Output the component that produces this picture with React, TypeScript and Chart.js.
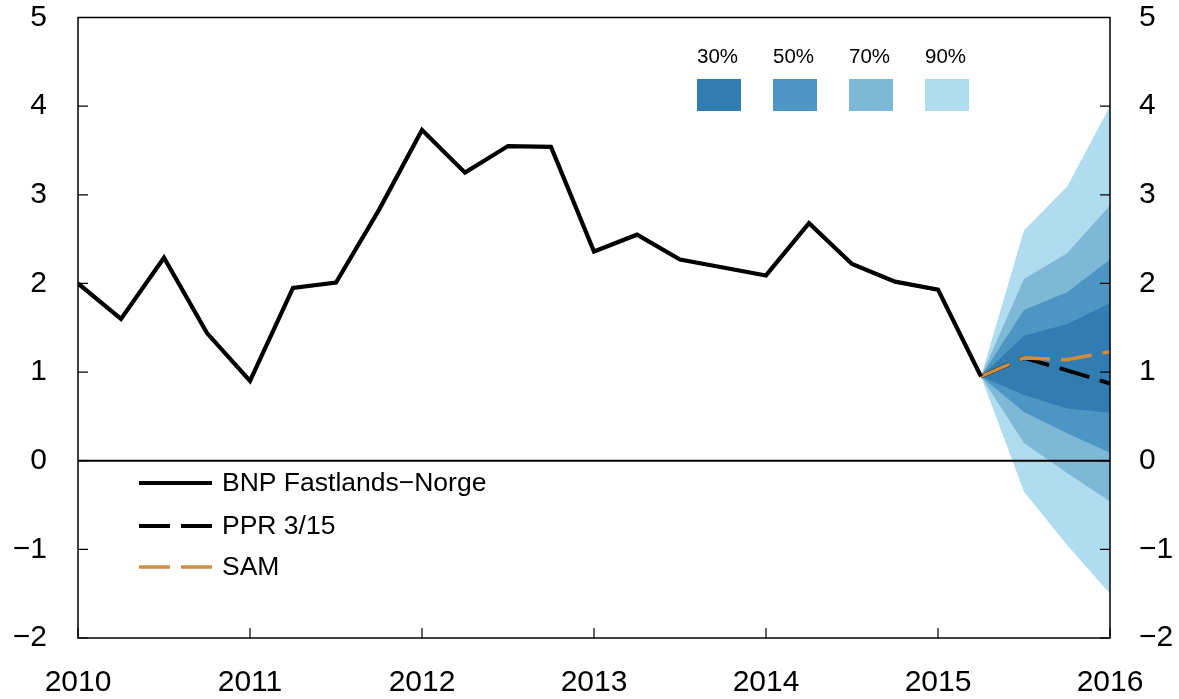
import React, { useEffect, useRef } from "react";
import { Chart, registerables } from "chart.js";

Chart.register(...registerables);

const histX = [2010, 2010.25, 2010.5, 2010.75, 2011, 2011.25, 2011.5, 2011.75, 2012, 2012.25, 2012.5, 2012.75, 2013, 2013.25, 2013.5, 2013.75, 2014, 2014.25, 2014.5, 2014.75, 2015, 2015.25];
const bnp = [2.0, 1.6, 2.29, 1.44, 0.9, 1.95, 2.01, 2.83, 3.73, 3.25, 3.55, 3.54, 2.36, 2.55, 2.27, 2.18, 2.09, 2.68, 2.22, 2.02, 1.93, 0.95];

const fcX = [2015.25, 2015.5, 2015.75, 2016];
const ppr = [0.95, 1.16, 1.02, 0.87];
const sam = [0.95, 1.16, 1.14, 1.23];

const up30 = [0.95, 1.41, 1.54, 1.78];
const lo30 = [0.95, 0.74, 0.59, 0.54];
const up50 = [0.95, 1.7, 1.9, 2.27];
const lo50 = [0.95, 0.55, 0.31, 0.09];
const up70 = [0.95, 2.05, 2.34, 2.88];
const lo70 = [0.95, 0.2, -0.14, -0.46];
const up90 = [0.95, 2.6, 3.09, 4.0];
const lo90 = [0.95, -0.35, -0.95, -1.5];

const bandLabels = ["30%", "50%", "70%", "90%"];
const seriesLabels = ["BNP Fastlands\u2212Norge", "PPR 3/15", "SAM"];

const C30 = "#317DB2";
const C50 = "#4D95C3";
const C70 = "#7DB8D6";
const C90 = "#B0DCF0";
const ORANGE = "#D18D3F";
const FONT = "'Liberation Sans', Arial, Helvetica, sans-serif";

const pts = (xs: number[], ys: number[]) => xs.map((x, i) => ({ x, y: ys[i] }));

const fmt = (v: any) => {
  const n = Number(v);
  return n < 0 ? "\u2212" + Math.abs(n) : String(n);
};

export default function App() {
  const ref = useRef<HTMLCanvasElement | null>(null);

  useEffect(() => {
    if (!ref.current) return;

    const band = (data: number[], color: string, fill: any) => ({
      data: pts(fcX, data),
      borderWidth: 0,
      borderColor: "transparent",
      backgroundColor: color,
      pointRadius: 0,
      fill,
      tension: 0,
    });

    const decor = {
      id: "decor",
      afterDatasetsDraw(chart: any) {
        const { ctx, chartArea, scales } = chart;
        const y = scales.y;
        ctx.save();
        ctx.strokeStyle = "#000";
        ctx.lineWidth = 2;
        ctx.beginPath();
        ctx.moveTo(chartArea.left, y.getPixelForValue(0));
        ctx.lineTo(chartArea.right, y.getPixelForValue(0));
        ctx.stroke();
        ctx.restore();
      },
      afterDraw(chart: any) {
        const { ctx, chartArea, scales } = chart;
        const y = scales.y;
        const x = scales.x;
        const { left, right, top, bottom } = chartArea;
        ctx.save();
        ctx.strokeStyle = "#000";
        ctx.lineWidth = 1.5;
        ctx.strokeRect(left, top, right - left, bottom - top);
        ctx.lineWidth = 1.2;
        ctx.beginPath();
        y.ticks.forEach((t: any) => {
          const py = y.getPixelForValue(t.value);
          ctx.moveTo(left, py);
          ctx.lineTo(left + 10, py);
          ctx.moveTo(right, py);
          ctx.lineTo(right - 10, py);
        });
        x.ticks.forEach((t: any) => {
          const px = x.getPixelForValue(t.value);
          ctx.moveTo(px, bottom);
          ctx.lineTo(px, bottom - 10);
        });
        ctx.stroke();

        const colors = [C30, C50, C70, C90];
        ctx.font = `20.5px ${FONT}`;
        ctx.textBaseline = "middle";
        ctx.textAlign = "left";
        bandLabels.forEach((lab, i) => {
          const bx = 697 + i * 76;
          ctx.fillStyle = colors[i];
          ctx.fillRect(bx, 79, 44, 32);
          ctx.fillStyle = "#000";
          ctx.fillText(lab, bx, 57);
        });

        const rows = [483, 526, 567];
        const styles = [
          { c: "#000", d: [] as number[], w: 4 },
          { c: "#000", d: [31, 11], w: 4 },
          { c: ORANGE, d: [31, 11], w: 3.5 },
        ];
        ctx.font = `26.5px ${FONT}`;
        seriesLabels.forEach((lab, i) => {
          const s = styles[i];
          ctx.strokeStyle = s.c;
          ctx.lineWidth = s.w;
          ctx.setLineDash(s.d);
          ctx.beginPath();
          ctx.moveTo(139, rows[i]);
          ctx.lineTo(212, rows[i]);
          ctx.stroke();
          ctx.setLineDash([]);
          ctx.fillStyle = "#000";
          ctx.fillText(lab, 222, rows[i] + 1);
        });
        ctx.restore();
      },
    };

    const tickFont = { family: FONT, size: 30 };
    const zeroPad = (s: any) => {
      s.paddingTop = 0;
      s.paddingBottom = 0;
      s.paddingLeft = 0;
      s.paddingRight = 0;
    };

    const chart = new Chart(ref.current, {
      type: "line",
      data: {
        datasets: [
          {
            data: pts(histX, bnp),
            borderColor: "#000",
            borderWidth: 4.2,
            pointRadius: 0,
            fill: false,
            tension: 0,
            borderJoinStyle: "miter",
          },
          {
            data: pts(fcX, sam),
            borderColor: ORANGE,
            borderWidth: 3.5,
            borderDash: [31, 11],
            pointRadius: 0,
            fill: false,
            tension: 0,
          },
          {
            data: pts(fcX, ppr),
            borderColor: "#000",
            borderWidth: 4,
            borderDash: [31, 11],
            pointRadius: 0,
            fill: false,
            tension: 0,
          },
          band(up30, C30, "+1"),
          band(lo30, C30, false),
          band(up50, C50, "+1"),
          band(lo50, C50, false),
          band(up70, C70, "+1"),
          band(lo70, C70, false),
          band(up90, C90, "+1"),
          band(lo90, C90, false),
        ] as any,
      },
      options: {
        animation: false,
        responsive: false,
        maintainAspectRatio: false,
        layout: { padding: { top: 17.5, left: 0, right: 0, bottom: 0 } },
        plugins: {
          legend: { display: false },
          tooltip: { enabled: false },
        },
        scales: {
          x: {
            type: "linear",
            min: 2010,
            max: 2016,
            grid: { display: false, drawTicks: false },
            border: { display: false },
            ticks: {
              stepSize: 1,
              callback: (v: any) => String(v),
              font: tickFont,
              color: "#000",
              padding: 27,
              maxRotation: 0,
            },
            afterFit: (s: any) => {
              s.height = 61;
              zeroPad(s);
            },
          },
          y: {
            position: "left",
            min: -2,
            max: 5,
            grid: { display: false, drawTicks: false },
            border: { display: false },
            ticks: { stepSize: 1, callback: fmt, font: tickFont, color: "#000", padding: 31 },
            afterFit: (s: any) => {
              s.width = 78;
              zeroPad(s);
            },
          },
          y2: {
            position: "right",
            min: -2,
            max: 5,
            grid: { display: false, drawTicks: false },
            border: { display: false },
            ticks: { stepSize: 1, callback: fmt, font: tickFont, color: "#000", padding: 29 },
            afterFit: (s: any) => {
              s.width = 69;
              zeroPad(s);
            },
          },
        },
      } as any,
      plugins: [decor],
    });

    return () => chart.destroy();
  }, []);

  return (
    <div style={{ position: "absolute", left: 0, top: 0, width: 1179, height: 699, background: "#fff" }}>
      <canvas ref={ref} width={1179} height={699} style={{ width: 1179, height: 699 }} />
    </div>
  );
}
